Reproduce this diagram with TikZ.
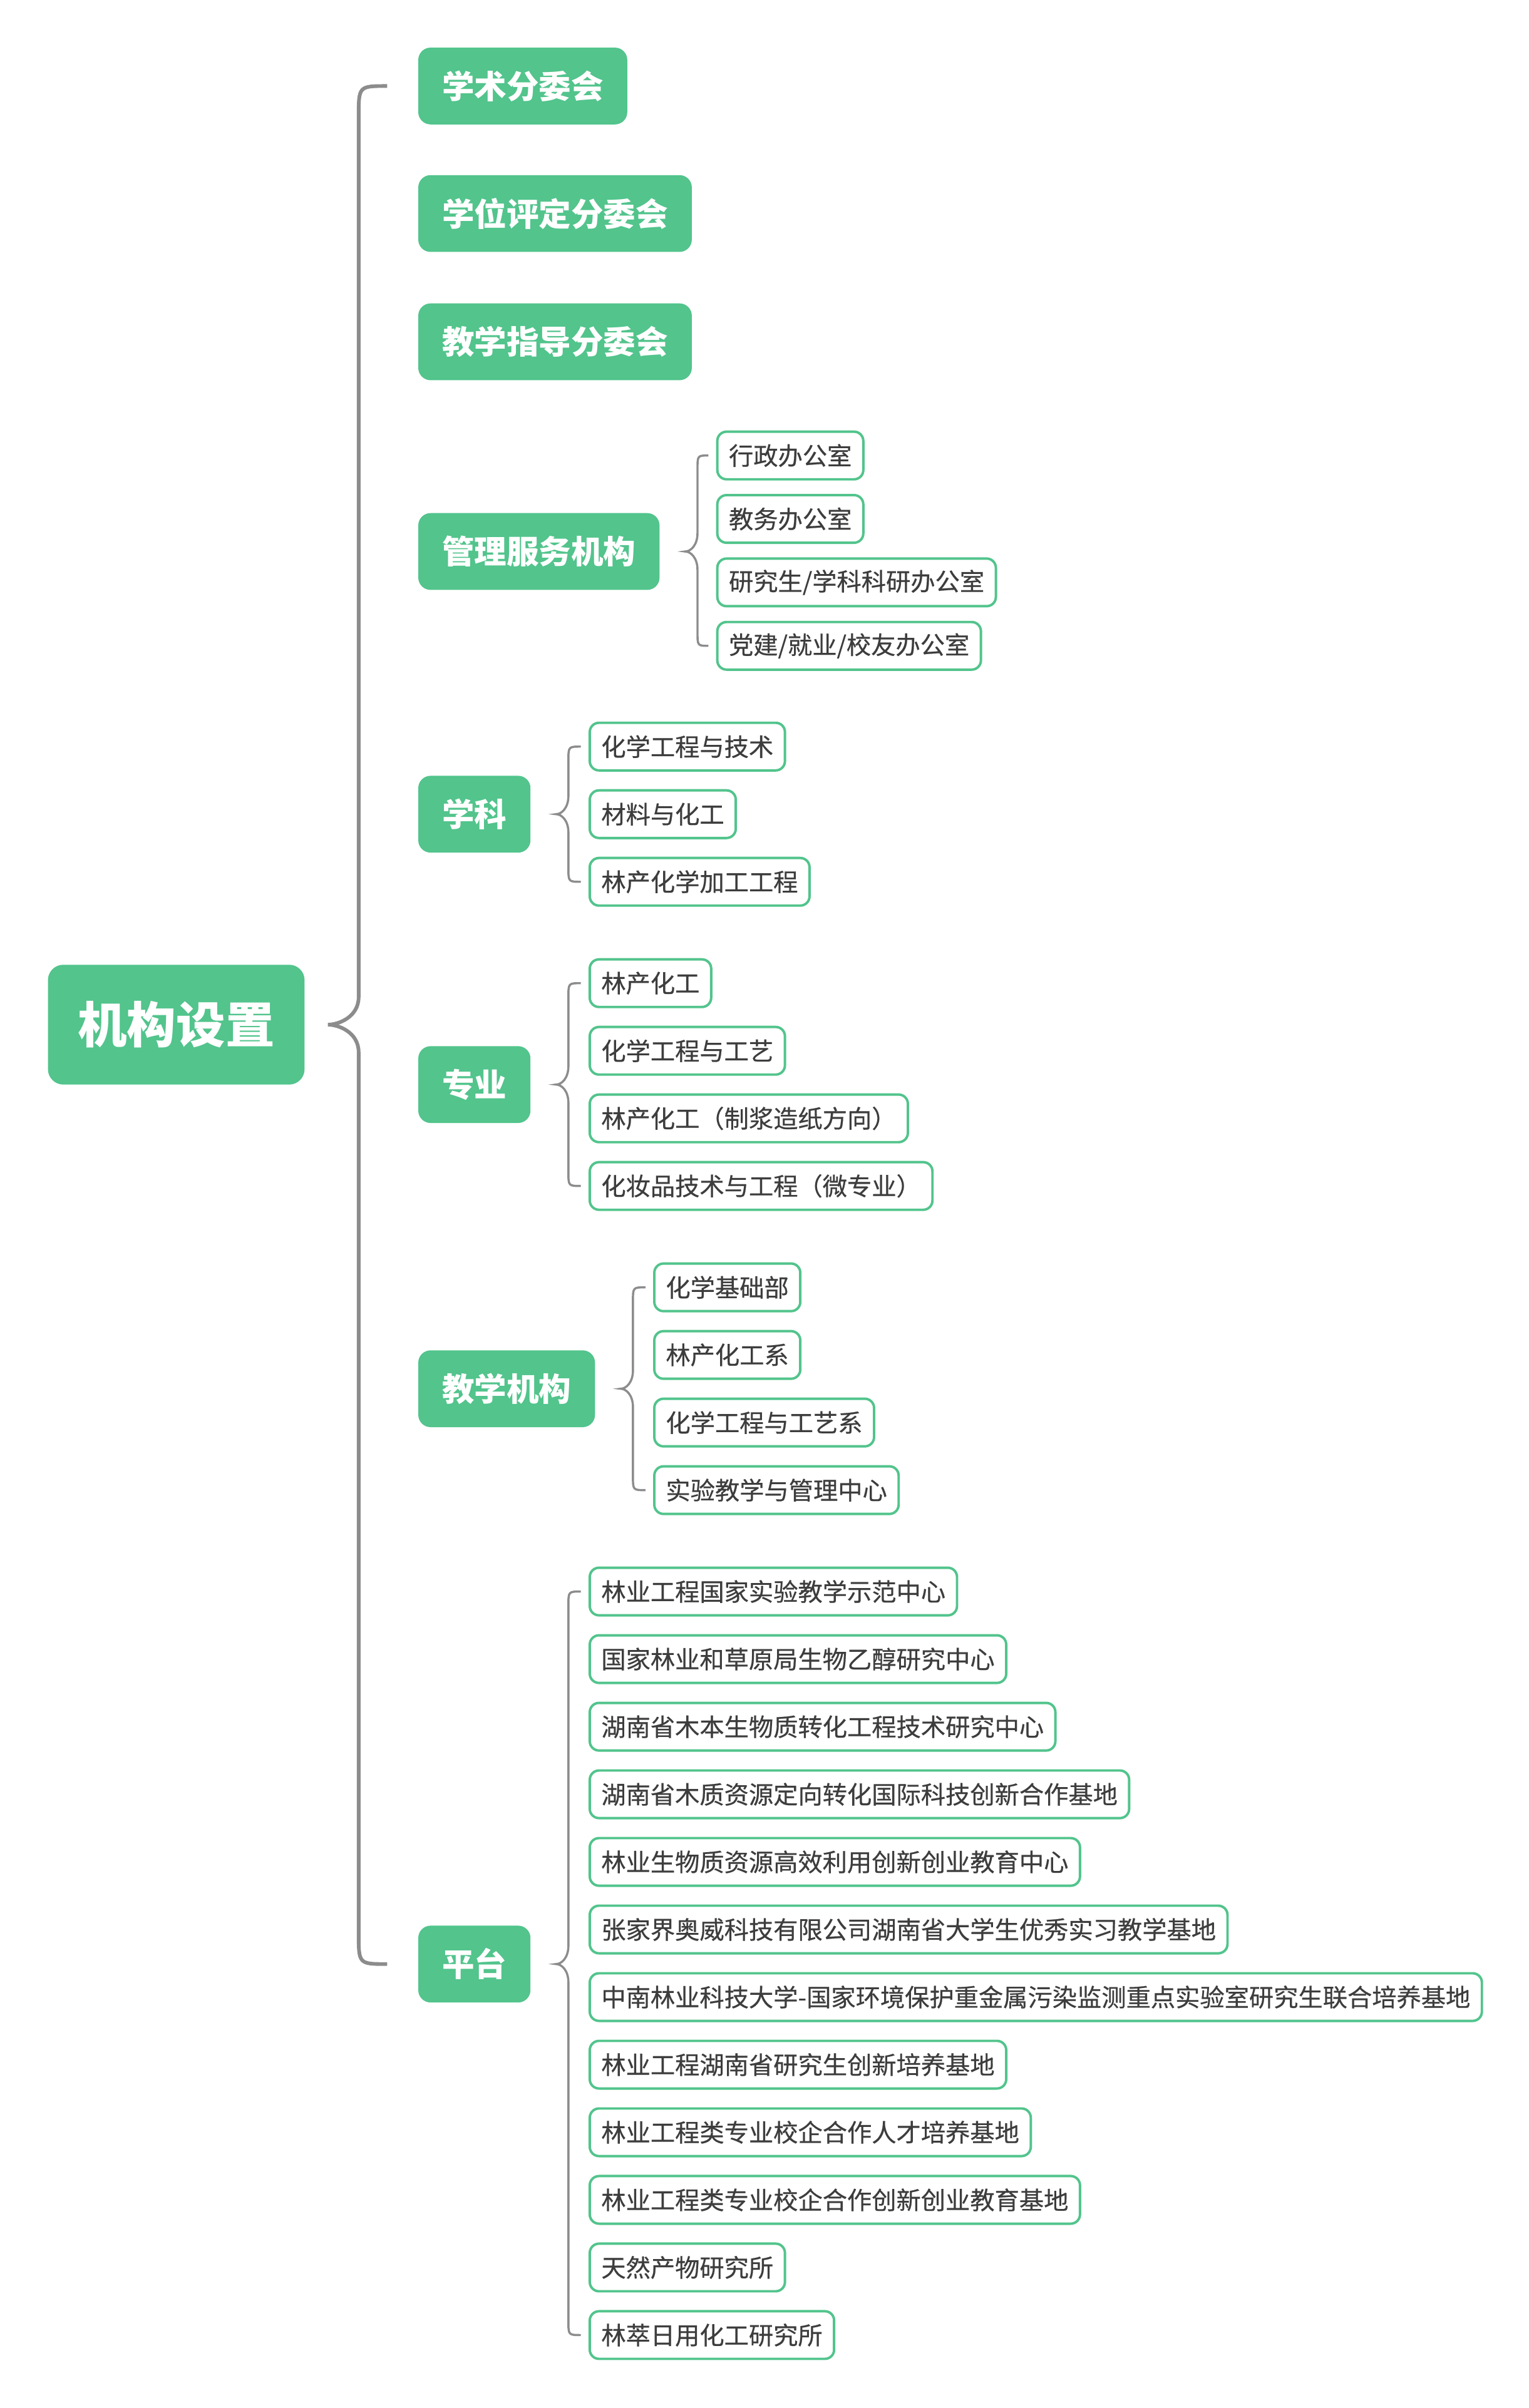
\documentclass[tikz,border=0pt]{standalone}
\usepackage{fontspec}
\setmainfont{Noto Sans CJK SC}
\newfontfamily\leaffont{Noto Sans CJK SC}[FakeBold=0.5]
\usetikzlibrary{positioning}
\usetikzlibrary{calc}
\definecolor{mapgreen}{HTML}{52C48C}
\definecolor{leaftext}{HTML}{3D3D3D}
\definecolor{linkgray}{HTML}{8C8C8C}

\begin{document}
\begin{tikzpicture}[x=1pt,y=1pt]
	\tikzstyle{rootbox} = [fill=mapgreen,rounded corners=10pt,text=white,font=\fontsize{32}{38}\selectfont\bfseries,inner xsep=19.5pt,inner ysep=0pt,minimum height=78pt]
	\tikzstyle{mainbox} = [fill=mapgreen,rounded corners=8pt,text=white,font=\fontsize{21}{25}\selectfont\bfseries,inner xsep=15.5pt,inner ysep=0pt,minimum height=50pt]
	\tikzstyle{leaf} = [draw=mapgreen,line width=1.6pt,fill=white,rounded corners=6pt,text=leaftext,font=\leaffont\fontsize{16}{19}\selectfont,inner xsep=7.5pt,inner ysep=0pt,minimum height=31pt]
	\tikzstyle{mainlink} = [draw=linkgray,line width=2.4pt]
	\tikzstyle{sublink} = [draw=linkgray,line width=1.4pt]

	\useasboundingbox (0,0) rectangle (995,-1567.5);

	\node[rootbox,anchor=west] at (31,-667) (root) {机构设置};

	\node[mainbox,anchor=west] at (272,-56) (xs) {学术分委会};
	\node[mainbox,anchor=west] at (272,-139) (xw) {学位评定分委会};
	\node[mainbox,anchor=west] at (272,-222.5) (jz) {教学指导分委会};
	\node[mainbox,anchor=west] at (272,-359) (gl) {管理服务机构};
	\node[mainbox,anchor=west] at (272,-530) (xk) {学科};
	\node[mainbox,anchor=west] at (272,-706) (zy) {专业};
	\node[mainbox,anchor=west] at (272,-904) (jx) {教学机构};
	\node[mainbox,anchor=west] at (272,-1278.5) (pt) {平台};

	% second level
	\foreach \txt [count=\i] in {行政办公室,教务办公室,研究生/学科科研办公室,党建/就业/校友办公室}
		\node[leaf,anchor=west] at (466,{-296.5-41.3*(\i-1)}) (gl\i) {\txt};
	\foreach \txt [count=\i] in {化学工程与技术,材料与化工,林产化学加工工程}
		\node[leaf,anchor=west] at (383,{-486-44*(\i-1)}) (xk\i) {\txt};
	\foreach \txt [count=\i] in {林产化工,化学工程与工艺,林产化工（制浆造纸方向）,化妆品技术与工程（微专业）}
		\node[leaf,anchor=west] at (383,{-640-44*(\i-1)}) (zy\i) {\txt};
	\foreach \txt [count=\i] in {化学基础部,林产化工系,化学工程与工艺系,实验教学与管理中心}
		\node[leaf,anchor=west] at (425,{-838-44*(\i-1)}) (jx\i) {\txt};
	\foreach \txt [count=\i] in {林业工程国家实验教学示范中心,国家林业和草原局生物乙醇研究中心,湖南省木本生物质转化工程技术研究中心,湖南省木质资源定向转化国际科技创新合作基地,林业生物质资源高效利用创新创业教育中心,张家界奥威科技有限公司湖南省大学生优秀实习教学基地,中南林业科技大学-国家环境保护重金属污染监测重点实验室研究生联合培养基地,林业工程湖南省研究生创新培养基地,林业工程类专业校企合作人才培养基地,林业工程类专业校企合作创新创业教育基地,天然产物研究所,林萃日用化工研究所}
		\node[leaf,anchor=west] at (383,{-1036-44*(\i-1)}) (pt\i) {\txt};

	% braces
	\draw[mainlink] let \p1=(root.east), \p2=(xs.west), \p3=(pt.west) in
		(\x2-20pt,\y2) .. controls (\x1+35pt,\y2) .. (\x1+35pt,\y2-20pt)
		-- (\x1+35pt,\y1+18pt) .. controls (\x1+35pt,\y1+5pt) and (\x1+22pt,\y1) .. (\x1+15pt,\y1)
		.. controls (\x1+22pt,\y1) and (\x1+35pt,\y1-5pt) .. (\x1+35pt,\y1-18pt)
		-- (\x1+35pt,\y3+20pt) .. controls (\x1+35pt,\y3) .. (\x3-20pt,\y3);

	\foreach \g/\last in {gl/4,xk/3,zy/4,jx/4,pt/12}
		\draw[sublink] let \p1=(\g.east), \p2=(\g1.west), \p3=(\g\last.west) in
			(\x2-5pt,\y2) .. controls (\x1+24.5pt,\y2) .. (\x1+24.5pt,\y2-9pt)
			-- (\x1+24.5pt,\y1+12pt) .. controls (\x1+24.5pt,\y1+4pt) and (\x1+20pt,\y1) .. (\x1+16.5pt,\y1)
			.. controls (\x1+20pt,\y1) and (\x1+24.5pt,\y1-4pt) .. (\x1+24.5pt,\y1-12pt)
			-- (\x1+24.5pt,\y3+9pt) .. controls (\x1+24.5pt,\y3) .. (\x3-5pt,\y3);
\end{tikzpicture}
\end{document}
